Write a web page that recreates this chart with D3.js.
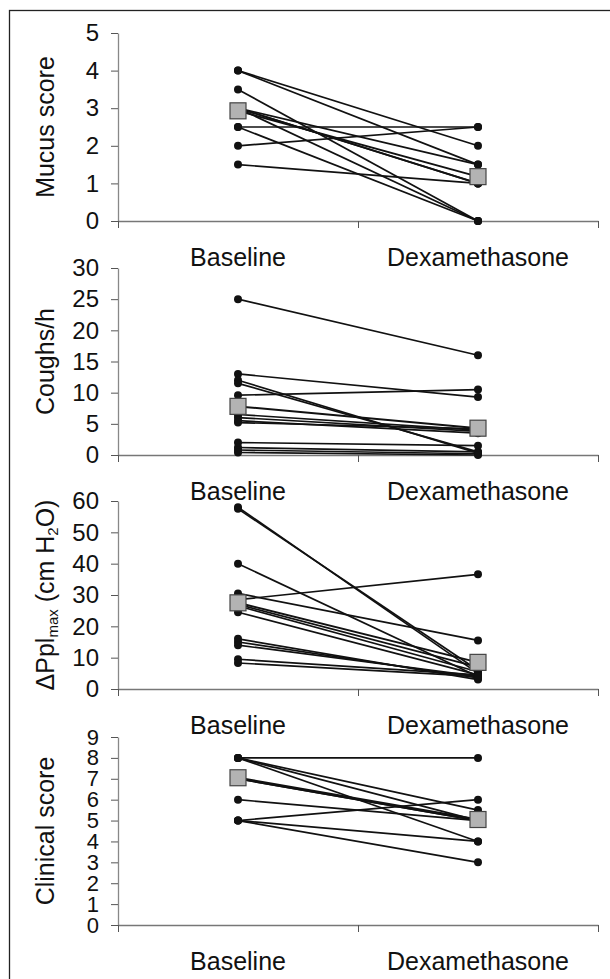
<html>
  <head>
    <meta charset="utf-8">
    <title>Baseline vs Dexamethasone</title>
    <style>
    body{
      margin: 0;
      background-color: white;
    }
    svg text{
      font-family: "Liberation Sans", Arial, sans-serif;
      fill: #111;
    }
    </style>
    <script src="https://cdn.jsdelivr.net/npm/d3@7"></script>
  </head>
  <body>
    <div id="container"></div>
    <script>
    //size of the whole figure
    const width = 610,
          height = 979;

    //the two conditions
    var groups = ["Baseline", "Dexamethasone"];

    //mucus score, one pair per animal
    var mucusBase = [4, 4, 3.5, 3, 3, 3, 3, 2.5, 2.5, 2, 1.5];
    var mucusDex  = [2, 1.5, 0, 1, 1.5, 1, 0, 2.5, 0, 2.5, 1];
    var mucusMean = [2.93, 1.18];
    var mucusTicks = [0, 1, 2, 3, 4, 5];

    //coughs per hour
    var coughBase = [25, 13, 9.6, 12, 11.5, 6.5, 6, 5.5, 5.2, 2, 1.2, 0.8, 0.4];
    var coughDex  = [16, 9.3, 10.5, 0.3, 0.5, 4, 3.8, 3.5, 4.2, 1.5, 0.5, 0.2, 0];
    var coughMean = [7.8, 4.3];
    var coughTicks = [0, 5, 10, 15, 20, 25, 30];

    //max pleural pressure change
    var pplBase = [58, 57.5, 40, 30.5, 28.5, 27, 26.5, 24.5, 16, 15, 14, 9.5, 8.3];
    var pplDex  = [5, 6, 4, 15.5, 36.6, 7, 5.5, 4.5, 3, 3.5, 4, 4.5, 4];
    var pplMean = [27.5, 8.5];
    var pplTicks = [0, 10, 20, 30, 40, 50, 60];

    //clinical score
    var clinBase = [8, 8, 8, 8, 7, 7, 6, 5, 5, 5];
    var clinDex  = [8, 5.5, 5, 4, 5, 5, 5, 6, 4, 3];
    var clinMean = [7.05, 5.05];
    var clinTicks = [0, 1, 2, 3, 4, 5, 6, 7, 8, 9];

    var svg = d3.select("#container")
      .append("svg")
      .attr("width", width)
      .attr("height", height);

    //frame round the figure
    svg.append("rect")
      .attr("x", 9.5)
      .attr("y", 10.5)
      .attr("width", 640)
      .attr("height", 1000)
      .attr("fill", "none")
      .attr("stroke", "#222")
      .attr("stroke-width", 1.3);

    //shared x positions
    var left = 118, right = 598;
    var x = d3.scaleBand().domain(groups).range([left, right]);
    var xTicks = d3.scaleLinear().domain([0, 2]).range([left, right]);

    //one panel: bottom = pixel of zero, top = pixel of max tick
    function panel(base, dex, mean, ticks, bottom, top, tickFont, title){
      var y = d3.scaleLinear()
        .domain([0, d3.max(ticks)])
        .range([bottom, top]);
      var g = svg.append("g");

      //y axis
      var ya = g.append("g")
        .attr("transform", "translate(" + left + ",0)")
        .call(d3.axisLeft(y).tickValues(ticks).tickFormat(d3.format("d"))
          .tickSize(7).tickSizeOuter(0).tickPadding(12));
      ya.select(".domain").attr("stroke", "#888").attr("stroke-width", 1.3);
      ya.selectAll(".tick line").attr("stroke", "#555");
      ya.selectAll(".tick text").attr("font-size", tickFont).attr("fill", "#111");

      //x axis with ticks at the group boundaries
      var xa = g.append("g")
        .attr("transform", "translate(0," + bottom + ")")
        .call(d3.axisBottom(xTicks).tickValues([0, 1, 2]).tickFormat("").tickSize(7).tickSizeOuter(0));
      xa.select(".domain").attr("stroke", "#777").attr("stroke-width", 1.3);
      xa.selectAll(".tick line").attr("stroke", "#555");

      //group names under the axis
      g.selectAll(".grp")
        .data(groups)
        .enter()
        .append("text")
        .attr("x", function(d) {return x(d) + x.bandwidth() / 2;})
        .attr("y", bottom + 45)
        .attr("text-anchor", "middle")
        .attr("font-size", 25)
        .text(function(d) {return d;});

      //axis title
      var t = g.append("text")
        .attr("transform", "translate(54," + (bottom + top) / 2 + ") rotate(-90)")
        .attr("text-anchor", "middle")
        .attr("font-size", 25);
      title(t);

      var cx0 = x(groups[0]) + x.bandwidth() / 2,
          cx1 = x(groups[1]) + x.bandwidth() / 2;

      //lines joining each animal
      g.selectAll(".pair")
        .data(d3.zip(base, dex))
        .enter()
        .append("line")
        .attr("x1", cx0)
        .attr("x2", cx1)
        .attr("y1", function(d) {return y(d[0]);})
        .attr("y2", function(d) {return y(d[1]);})
        .attr("stroke", "#111")
        .attr("stroke-width", 1.7);

      //line between means
      g.append("line")
        .attr("x1", cx0).attr("x2", cx1)
        .attr("y1", y(mean[0])).attr("y2", y(mean[1]))
        .attr("stroke", "#111")
        .attr("stroke-width", 2);

      //dots
      var pts = base.map(function(v) {return [cx0, v];})
        .concat(dex.map(function(v) {return [cx1, v];}));
      g.selectAll(".dot")
        .data(pts)
        .enter()
        .append("circle")
        .attr("cx", function(d) {return d[0];})
        .attr("cy", function(d) {return y(d[1]);})
        .attr("r", 4)
        .attr("fill", "#111");

      //mean squares
      g.selectAll(".mean")
        .data([[cx0, mean[0]], [cx1, mean[1]]])
        .enter()
        .append("rect")
        .attr("x", function(d) {return d[0] - 8;})
        .attr("y", function(d) {return y(d[1]) - 8;})
        .attr("width", 16)
        .attr("height", 16)
        .attr("fill", "#b3b3b3")
        .attr("stroke", "#444")
        .attr("stroke-width", 1.2);
    }

    panel(mucusBase, mucusDex, mucusMean, mucusTicks, 221, 33, 24, function(t){
      t.text("Mucus score");
    });
    panel(coughBase, coughDex, coughMean, coughTicks, 455, 268, 24, function(t){
      t.text("Coughs/h");
    });
    panel(pplBase, pplDex, pplMean, pplTicks, 689, 501, 24, function(t){
      t.append("tspan").text("\u0394Ppl");
      t.append("tspan").attr("font-size", 15).attr("dy", 4).text("max");
      t.append("tspan").attr("dy", -4).text(" (cm H");
      t.append("tspan").attr("font-size", 15).attr("dy", 4).text("2");
      t.append("tspan").attr("dy", -4).text("O)");
    });
    panel(clinBase, clinDex, clinMean, clinTicks, 925, 737, 22, function(t){
      t.text("Clinical score");
    });
    </script>
  </body>
</html>
